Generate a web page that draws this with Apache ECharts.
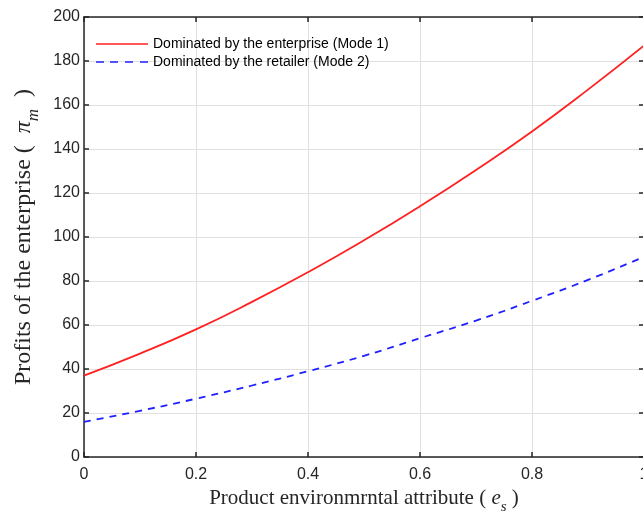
<!DOCTYPE html>
<html><head><meta charset="utf-8">
<script src="https://cdn.jsdelivr.net/npm/echarts@6/dist/echarts.min.js"></script>
<style>html,body{margin:0;padding:0;background:#fff}#c{width:643px;height:518px}</style>
</head><body><div id="c"></div>
<script>
const xs = [0, 0.1, 0.2, 0.3, 0.4, 0.5, 0.6, 0.7, 0.8, 0.9, 1.0];
const mode1 = [37, 47, 58, 70.5, 84, 98.5, 114, 130.5, 148, 167, 187];
const mode2 = [16, 21, 26.5, 32.5, 39, 46, 54, 62, 71, 80.5, 91];
const seriesNames = ['Dominated by the enterprise (Mode 1)', 'Dominated by the retailer (Mode 2)'];

const chart = echarts.init(document.getElementById('c'));
const tickColor = '#262626';
const serif = 'Liberation Serif, Times New Roman';
function rich(fs) {
  return {
    t: {fontFamily: serif, fontSize: fs, color: tickColor, lineHeight: fs + 1, verticalAlign: 'top'},
    i: {fontFamily: serif, fontSize: fs, fontStyle: 'italic', color: tickColor, lineHeight: fs + 1, verticalAlign: 'top'},
    s: {fontFamily: serif, fontSize: Math.round(fs * 0.72), fontStyle: 'italic', color: tickColor, lineHeight: Math.round(fs * 0.72) + 1, verticalAlign: 'top', padding: [Math.round(fs * 0.58), 0, 0, 0]}
  };
}
const tickStyle = {show: true, inside: true, length: 5, lineStyle: {color: tickColor, width: 1.5}};
chart.setOption({
  animation: false,
  grid: {left: 84, right: -1, top: 17, bottom: 61, containLabel: false, outerBoundsMode: 'none'},
  legend: {
    left: 91, top: 32, orient: 'vertical', itemGap: 4, itemWidth: 52, itemHeight: 12,
    textStyle: {fontFamily: 'Liberation Sans, Arial', fontSize: 14, color: '#000'},
    data: [
      {name: seriesNames[0], icon: 'path://M0,0 L52,0 L52,1.5 L0,1.5 Z'},
      {name: seriesNames[1], icon: 'path://M0,0 L8,0 L8,1.5 L0,1.5 Z M14,0 L22,0 L22,1.5 L14,1.5 Z M29,0 L37,0 L37,1.5 L29,1.5 Z M44,0 L52,0 L52,1.5 L44,1.5 Z'}
    ]
  },
  xAxis: [
    {
      type: 'value', min: 0, max: 1, interval: 0.2,
      name: '{t|Product environmrntal attribute ( }{i|e}{s|s}{t| )}',
      nameLocation: 'middle', nameGap: 27,
      nameTextStyle: {rich: rich(21)},
      axisLine: {show: true, onZero: false, lineStyle: {color: tickColor, width: 1.5}},
      axisTick: tickStyle,
      splitLine: {show: true, lineStyle: {color: '#e0e0e0', width: 1}},
      axisLabel: {color: tickColor, fontFamily: 'Liberation Sans, Arial', fontSize: 16, margin: 10}
    },
    {type: 'value', min: 0, max: 1, interval: 0.2, position: 'top',
     axisLine: {show: true, onZero: false, lineStyle: {color: tickColor, width: 1.5}},
     axisTick: tickStyle,
     axisLabel: {show: false}, splitLine: {show: false}}
  ],
  yAxis: [
    {
      type: 'value', min: 0, max: 200, interval: 20,
      name: '{t|Profits of the enterprise (  }{i|π}{s|m}{t|  )}',
      nameLocation: 'middle', nameGap: 43, nameRotate: 90,
      nameTextStyle: {rich: rich(24)},
      axisLine: {show: true, onZero: false, lineStyle: {color: tickColor, width: 1.5}},
      axisTick: tickStyle,
      splitLine: {show: true, lineStyle: {color: '#e0e0e0', width: 1}},
      axisLabel: {color: tickColor, fontFamily: 'Liberation Sans, Arial', fontSize: 16, margin: 4}
    },
    {type: 'value', min: 0, max: 200, interval: 20, position: 'right',
     axisLine: {show: true, onZero: false, lineStyle: {color: tickColor, width: 1.5}},
     axisTick: tickStyle,
     axisLabel: {show: false}, splitLine: {show: false}}
  ],
  series: [
    {name: seriesNames[0], type: 'line', smooth: true, symbol: 'none',
     lineStyle: {color: '#ff2020', width: 1.8}, itemStyle: {color: '#ff2020'},
     data: xs.map((x, i) => [x, mode1[i]])},
    {name: seriesNames[1], type: 'line', smooth: true, symbol: 'none',
     lineStyle: {color: '#2020ff', width: 1.8, type: [7, 6]}, itemStyle: {color: '#2020ff'},
     data: xs.map((x, i) => [x, mode2[i]])}
  ]
});
</script></body></html>
